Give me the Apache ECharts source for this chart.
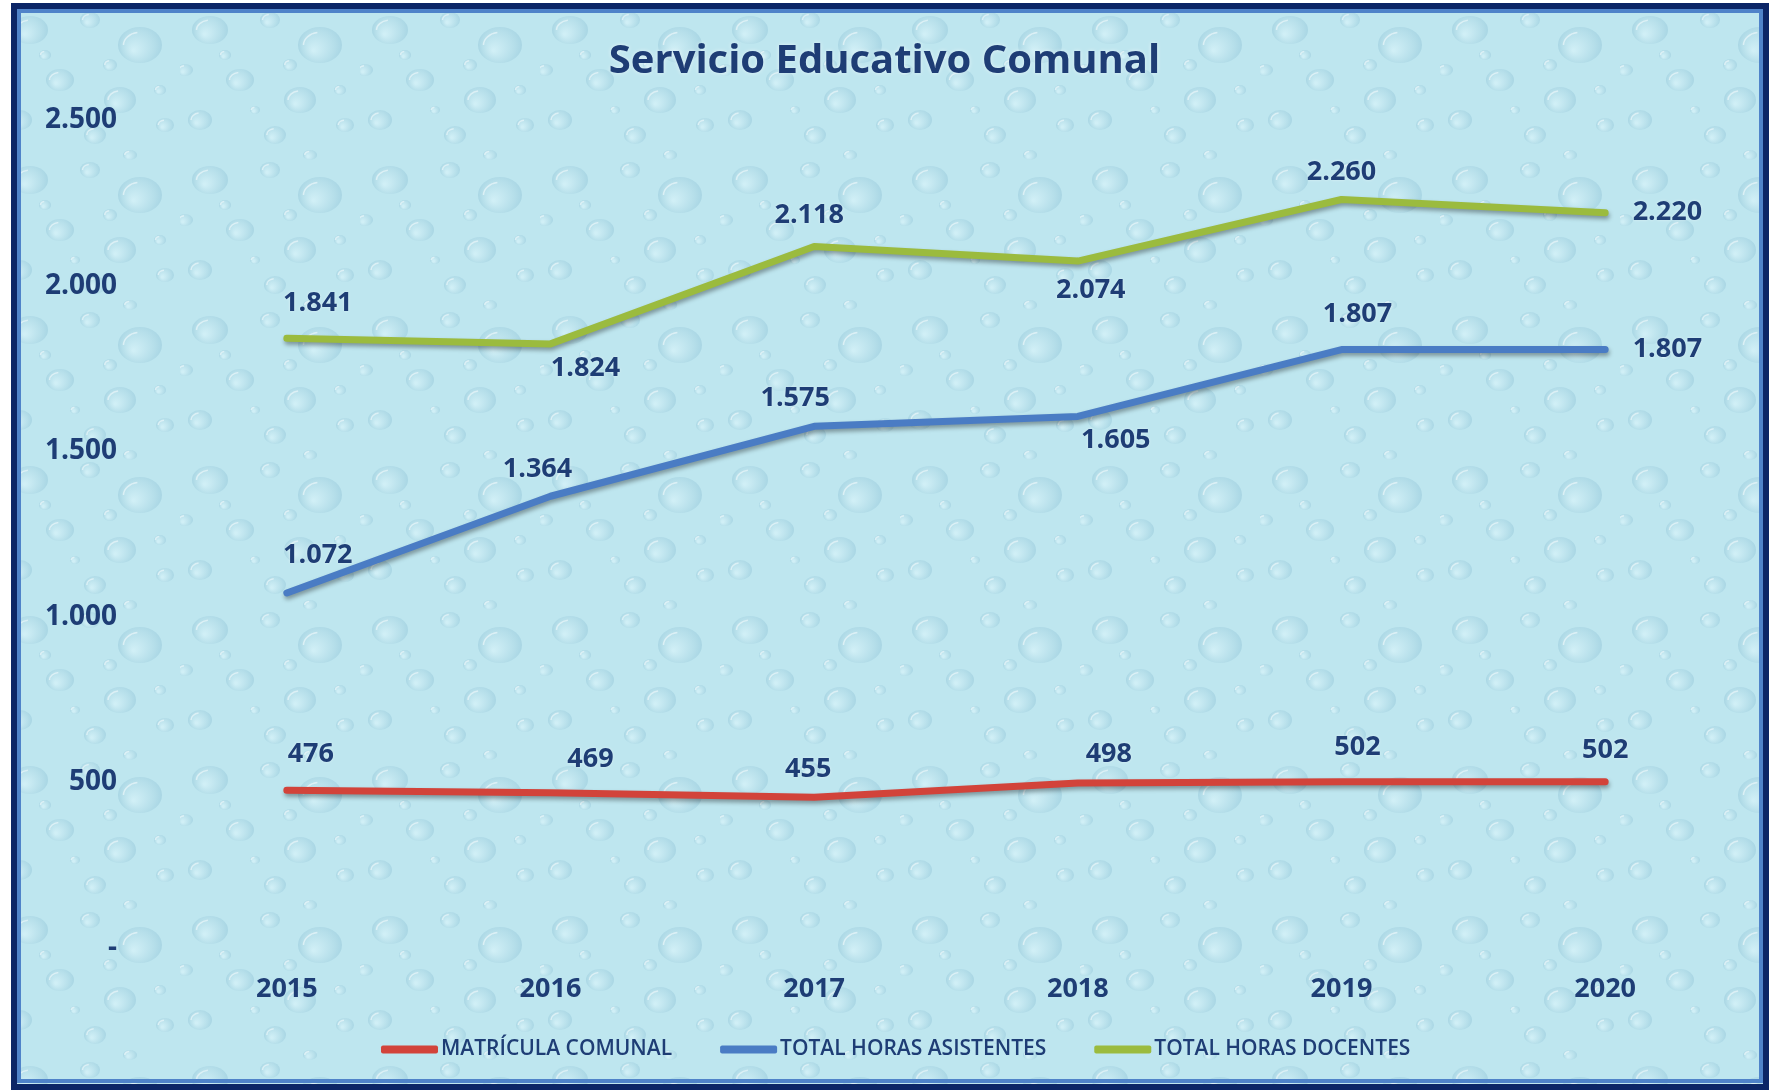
<!DOCTYPE html>
<html><head><meta charset="utf-8">
<script src="https://cdn.jsdelivr.net/npm/echarts@6/dist/echarts.min.js"></script>
<style>html,body{margin:0;padding:0;background:#fff}#c{width:1769px;height:1090px}</style>
</head><body><div id="c"></div>
<script>
// ---------- DATA ----------
const years = ['2015', '2016', '2017', '2018', '2019', '2020'];
const matricula = [476, 469, 455, 498, 502, 502];
const asistentes = [1072, 1364, 1575, 1605, 1807, 1807];
const docentes = [1841, 1824, 2118, 2074, 2260, 2220];
const seriesNames = ['MATRÍCULA COMUNAL', 'TOTAL HORAS ASISTENTES', 'TOTAL HORAS DOCENTES'];
const yMin = 0, yMax = 2500, yInterval = 500;
const titleText = 'Servicio Educativo Comunal';

// ---------- STYLE (label placement per point) ----------
const labelPlace = [
  [['top',24,22],['top',40,19],['top',-6,14],['top',31,15],['top',16,20],['top',0,17]],
  [['top',31,24],['top',-13,13],['top',-19,14],['bottom',38,10],['top',16,21],['right',0,27]],
  [['top',31,21],['bottom',35,10],['top',-5,17],['bottom',13,15],['top',0,13],['right',0,27]]
];
const colors = ['#d2433a', '#4a7cc4', '#9bbb3e'];
const navy = '#1e3d75';

function fmt(v){ return v === 0 ? '-' : String(v).replace(/\B(?=(\d{3})+(?!\d))/g, '.'); }

function makeTile(){
  const c = document.createElement('canvas'); c.width = 180; c.height = 150;
  const g = c.getContext('2d');
  g.fillStyle = '#bee6ef'; g.fillRect(0, 0, 180, 150);
  const drops = [[30,30,18,14],[90,20,10,8],[140,45,22,18],[60,80,14,11],[120,100,16,13],[20,120,12,10],
                 [165,125,9,7],[95,135,11,9],[45,55,6,5],[110,65,7,6],[160,90,6,5],[75,110,5,4],[5,70,8,6],[130,5,7,5]];
  drops.forEach(([x,y,rx,ry]) => {
    const gr = g.createRadialGradient(x - rx*0.3, y + ry*0.3, 1, x, y, rx);
    gr.addColorStop(0, '#d0eff6'); gr.addColorStop(0.7, '#b6dfea'); gr.addColorStop(1, '#a9d6e4');
    g.fillStyle = gr; g.beginPath(); g.ellipse(x, y, rx, ry, 0, 0, Math.PI*2); g.fill();
    g.strokeStyle = 'rgba(255,255,255,0.5)'; g.lineWidth = 1.5;
    g.beginPath(); g.ellipse(x, y, rx*0.75, ry*0.7, 0, 1.0*Math.PI, 1.45*Math.PI); g.stroke();
  });
  return c;
}

const allData = [matricula, asistentes, docentes];
const series = allData.map((arr, si) => ({
  name: seriesNames[si],
  type: 'line',
  data: arr.map((v, i) => {
    const p = labelPlace[si][i];
    return { value: v, label: { position: p[0], offset: [p[1], 0], distance: p[2] } };
  }),
  color: colors[si],
  symbol: 'circle', symbolSize: 1,
  itemStyle: { color: colors[si] },
  lineStyle: { width: 7, color: colors[si], cap: 'round', join: 'round',
    shadowColor: 'rgba(0,0,0,0.35)', shadowBlur: 4, shadowOffsetY: 3, shadowOffsetX: 1 },
  label: { show: true, formatter: p => fmt(p.value), color: navy,
    fontFamily: 'Open Sans', fontWeight: 'bold', fontSize: 27,
    textShadowColor: 'rgba(255,255,255,0.5)', textShadowBlur: 3 },
  z: 3 - si
}));

const chart = echarts.init(document.getElementById('c'), null, { renderer: 'canvas' });
chart.setOption({
  animation: false,
  backgroundColor: { image: makeTile(), repeat: 'repeat' },
  title: { text: titleText, left: 'center', top: 37,
    textStyle: { fontFamily: 'Open Sans', fontWeight: 'bold', fontSize: 40, color: navy,
      textShadowColor: 'rgba(255,255,255,0.6)', textShadowBlur: 4 } },
  grid: { left: 155, right: 32, top: 120, bottom: 142 },
  xAxis: { type: 'category', data: years, boundaryGap: true,
    axisLine: { show: false }, axisTick: { show: false }, splitLine: { show: false },
    axisLabel: { margin: 28, color: navy, fontFamily: 'Open Sans', fontWeight: 'bold', fontSize: 27 } },
  yAxis: { type: 'value', min: yMin, max: yMax, interval: yInterval,
    axisLine: { show: false }, axisTick: { show: false }, splitLine: { show: false },
    axisLabel: { margin: 38, formatter: fmt, color: navy, fontFamily: 'Open Sans', fontWeight: 'bold', fontSize: 28 } },
  legend: { data: seriesNames, left: 376, top: 1034, icon: 'roundRect', itemWidth: 57, itemHeight: 8,
    itemGap: 48, textStyle: { color: navy, fontFamily: 'Open Sans', fontSize: 21, fontWeight: 600, padding: [0,0,0,-2] } },
  graphic: [
    { type: 'rect', shape: { x: 0, y: 0, width: 11, height: 1090 }, style: { fill: '#ffffff' }, z: 100 },
    { type: 'rect', shape: { x: 0, y: 0, width: 1769, height: 3 }, style: { fill: '#ffffff' }, z: 100 },
    { type: 'rect', shape: { x: 14, y: 6, width: 1752, height: 1081 }, style: { fill: null, stroke: '#0b2566', lineWidth: 6 }, z: 100 },
    { type: 'rect', shape: { x: 19, y: 11, width: 1742, height: 1070 }, style: { fill: null, stroke: '#4f83c9', lineWidth: 4 }, z: 100 }
  ],
  series: series
});
</script>
</body></html>
